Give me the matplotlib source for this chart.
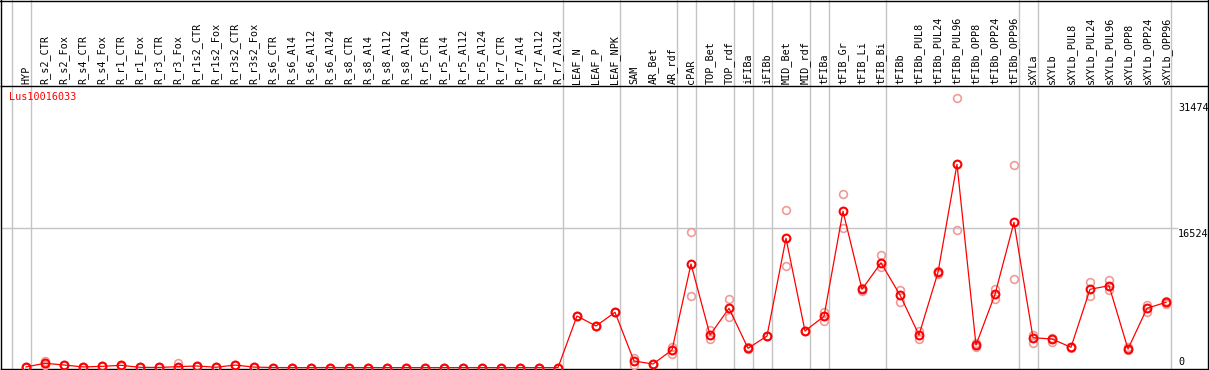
import matplotlib
matplotlib.use("Agg")
import matplotlib.pyplot as plt
from matplotlib.lines import Line2D
import matplotlib.transforms as mtransforms
import numpy as np

gene = "Lus10016033"

categories = [
    "HYP", "R_s2_CTR", "R_s2_Fox", "R_s4_CTR", "R_s4_Fox", "R_r1_CTR", "R_r1_Fox",
    "R_r3_CTR", "R_r3_Fox", "R_r1s2_CTR", "R_r1s2_Fox", "R_r3s2_CTR", "R_r3s2_Fox",
    "R_s6_CTR", "R_s6_Al4", "R_s6_Al12", "R_s6_Al24", "R_s8_CTR", "R_s8_Al4",
    "R_s8_Al12", "R_s8_Al24", "R_r5_CTR", "R_r5_Al4", "R_r5_Al12", "R_r5_Al24",
    "R_r7_CTR", "R_r7_Al4", "R_r7_Al12", "R_r7_Al24", "LEAF_N", "LEAF_P", "LEAF_NPK",
    "SAM", "AR_Bet", "AR_rdf", "cPAR", "TOP_Bet", "TOP_rdf", "iFIBa", "iFIBb",
    "MID_Bet", "MID_rdf", "tFIBa", "tFIB_Gr", "tFIB_Li", "tFIB_Bi", "tFIBb",
    "tFIBb_PUL8", "tFIBb_PUL24", "tFIBb_PUL96", "tFIBb_OPP8", "tFIBb_OPP24",
    "tFIBb_OPP96", "sXYLa", "sXYLb", "sXYLb_PUL8", "sXYLb_PUL24", "sXYLb_PUL96",
    "sXYLb_OPP8", "sXYLb_OPP24", "sXYLb_OPP96",
]

group_sizes = [1, 28, 3, 3, 1, 2, 1, 1, 2, 1, 3, 7, 1, 7]

means = [
    80, 510, 310, 80, 150, 270, 30, 20, 110, 190, 40, 300, 60,
    10, 0, 0, 10, 0, 0, 0, 0, 0, 0, 0, 0, 0, 0, 0, 0,
    6122, 4936, 6561,
    783, 427, 2088, 12292, 3868, 7036, 2290, 3749,
    15342, 4343, 6087, 18546, 9290, 12430, 8614,
    3868, 11307, 24122, 2682, 8697, 17240,
    3548, 3393, 2409, 9290, 9718, 2207, 7036, 7748,
]

rep_a = [
    80, 780, 350, 80, 150, 320, 30, 20, 580, 230, 40, 330, 60,
    10, 0, 0, 10, 0, 0, 0, 0, 0, 0, 0, 0, 0, 0, 0, 0,
    6122, 4936, 6561,
    1103, 427, 2480, 16054, 4461, 8104, 2400, 3749,
    18664, 4343, 6633, 20563, 9500, 13360, 9207,
    4378, 11500, 31953, 2900, 9326, 24003,
    3868, 3500, 2500, 10121, 10394, 2400, 7428, 7900,
]

rep_b = [
    80, 300, 270, 80, 150, 220, 30, 20, 0, 150, 40, 270, 60,
    10, 0, 0, 10, 0, 0, 0, 0, 0, 0, 0, 0, 0, 0, 0, 0,
    6122, 4936, 6561,
    308, 427, 1614, 8460, 3393, 6040, 2200, 3749,
    12091, 4343, 5529, 16600, 9100, 11972, 7819,
    3358, 11100, 16291, 2500, 8140, 10477,
    2883, 3050, 2300, 8495, 9207, 2050, 6633, 7600,
]

grid_values = [16524]
axis_labels = [31474, 16524, 0]

W, H = 1209, 370
fig = plt.figure(figsize=(W / 100, H / 100), dpi=100)
fig.patch.set_facecolor("white")

ax_left_px, ax_right_px = 1.0, 1207.5
ax_top_px, ax_bot_px = 85.5, 368.5
ax = fig.add_axes([ax_left_px / W, (H - ax_bot_px) / H,
                   (ax_right_px - ax_left_px) / W, (ax_bot_px - ax_top_px) / H])

# pixel mapping: x_px = 26 + 19*i ; y value 0 at px 367.6, 0.008428 px per unit
x0_px, dx_px = 26.0, 19.0
ax.set_xlim((ax_left_px - x0_px) / dx_px, (ax_right_px - x0_px) / dx_px)
y0_px, k = 367.6, 0.008428
ax.set_ylim((y0_px - ax_bot_px) / k, (y0_px - ax_top_px) / k)

for sp in ax.spines.values():
    sp.set_color("black")
    sp.set_linewidth(1.0)
ax.set_xticks([])
ax.set_yticks([])

x = np.arange(len(categories))

# group separator lines (extend through header)
ext = (ax_bot_px - 0) / (ax_bot_px - ax_top_px)
bounds = np.concatenate([[-1], np.cumsum(group_sizes) - 1]) + 4.5 / dx_px
for b in bounds:
    ax.axvline(b, ymin=0, ymax=ext, color="#c4c4c4", lw=1.0, clip_on=False, zorder=1)

# horizontal grid
for g in grid_values:
    ax.axhline(g, xmin=0, xmax=(1177 - ax_left_px) / (ax_right_px - ax_left_px),
               color="#c4c4c4", lw=1.0, zorder=1)

# replicates
ax.plot(x, rep_a, linestyle="none", marker="o", ms=5.6, mfc="none",
        mec="#f09a9a", mew=1.2, zorder=3, clip_on=False)
ax.plot(x, rep_b, linestyle="none", marker="o", ms=5.6, mfc="none",
        mec="#f09a9a", mew=1.2, zorder=3, clip_on=False)
# means
ax.plot(x, means, color="#ff0000", lw=0.9, marker="o", ms=5.6, mfc="none",
        mec="#ff0000", mew=1.5, zorder=4, clip_on=False)

# category labels in header
tr = mtransforms.blended_transform_factory(ax.transData, ax.transAxes)
off = mtransforms.offset_copy(tr, fig=fig, x=0, y=2.0, units="dots")
for i, c in enumerate(categories):
    ax.text(i, 1.0, c, rotation=90, ha="center", va="bottom",
            fontsize=7.3, family="DejaVu Sans Mono", color="black",
            transform=off, clip_on=False)

# gene title
ax.text(8.5 / (ax_right_px - ax_left_px), 1.0, gene, color="#ff0000",
        fontsize=7.3, family="DejaVu Sans Mono", ha="left", va="top",
        transform=mtransforms.offset_copy(ax.transAxes, fig=fig, x=0, y=-6, units="dots"))

# right-side value labels
trl = mtransforms.blended_transform_factory(ax.transAxes, ax.transData)
xl = (1178 - ax_left_px) / (ax_right_px - ax_left_px)
for v in axis_labels:
    if v == 0:
        ax.text(xl, v, str(v), fontsize=7.3, family="DejaVu Sans Mono", ha="left",
                va="bottom", transform=mtransforms.offset_copy(trl, fig=fig, x=0, y=1, units="dots"))
    else:
        ax.text(xl, v, str(v), fontsize=7.3, family="DejaVu Sans Mono", ha="left",
                va="top", transform=mtransforms.offset_copy(trl, fig=fig, x=0, y=-1, units="dots"))

# outer frame of header
fig.add_artist(Line2D([0, 1], [1 - 0.5 / H, 1 - 0.5 / H], color="black", lw=1.0))
fig.add_artist(Line2D([1 / W, 1 / W], [(H - ax_top_px) / H, 1], color="black", lw=1.0))
fig.add_artist(Line2D([ax_right_px / W, ax_right_px / W], [(H - ax_top_px) / H, 1], color="black", lw=1.0))

fig.savefig("out.png", dpi=100, facecolor="white")
